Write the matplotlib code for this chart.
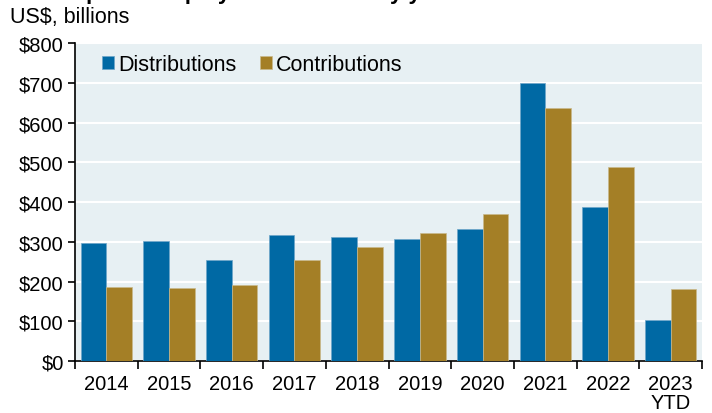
import numpy as np
import matplotlib.pyplot as plt

plt.rcParams['font.family'] = ['Liberation Sans', 'DejaVu Sans']

years = ["2014", "2015", "2016", "2017", "2018", "2019", "2020", "2021", "2022", "2023\nYTD"]
distributions = [297, 302, 254, 317, 312, 307, 332, 700, 387, 103]
contributions = [186, 184, 191, 254, 287, 322, 370, 637, 488, 181]

blue = "#0069a4"
gold = "#a47f26"

fig = plt.figure(figsize=(7.12, 4.14), dpi=100)
ax = fig.add_axes([0.1053, 0.1256, 0.8807, 0.7681])
ax.set_facecolor("#e7f0f3")

x = np.arange(len(years))
w = 0.41
ax.bar(x - w / 2, distributions, w, color=blue, edgecolor="#6ea6c9", linewidth=0.5,
       label="Distributions", zorder=3)
ax.bar(x + w / 2, contributions, w, color=gold, edgecolor="#c9b98c", linewidth=0.5,
       label="Contributions", zorder=3)

ax.set_ylim(0, 800)
ax.set_xlim(-0.5, len(years) - 0.5)
ax.set_yticks(np.arange(0, 801, 100))
ax.set_yticklabels(["$%d" % v for v in np.arange(0, 801, 100)])
ax.yaxis.grid(True, color="white", linewidth=1.5, zorder=0)
ax.set_axisbelow(True)

ax.set_xticks(x)
ax.set_xticklabels(years, linespacing=1.05)
ax.set_xticks(np.arange(-0.5, len(years), 1), minor=True)
ax.tick_params(axis="x", which="major", length=0, pad=9, labelsize=14.5)
ax.tick_params(axis="x", which="minor", length=6, width=1.2, direction="out")
ax.tick_params(axis="y", length=5, width=1.2, labelsize=14.5, pad=3)

for s in ["top", "right"]:
    ax.spines[s].set_visible(False)
for s in ["left", "bottom"]:
    ax.spines[s].set_linewidth(1.2)
    ax.spines[s].set_color("black")

ax.legend(loc="upper left", ncol=2, frameon=False, fontsize=15.5,
          handlelength=0.55, handleheight=0.55, handletextpad=0.2,
          columnspacing=1.1, bbox_to_anchor=(0.012, 1.025))

# title is mostly cut off at the top in the source image
fig.text(0.015, 1.003, "Global private equity distributions by year", fontsize=16,
         fontweight="bold", va="baseline", ha="left")
fig.text(0.014, 0.958, "US$, billions", fontsize=15.5, va="center", ha="left")

fig.savefig("out.png", dpi=100)
